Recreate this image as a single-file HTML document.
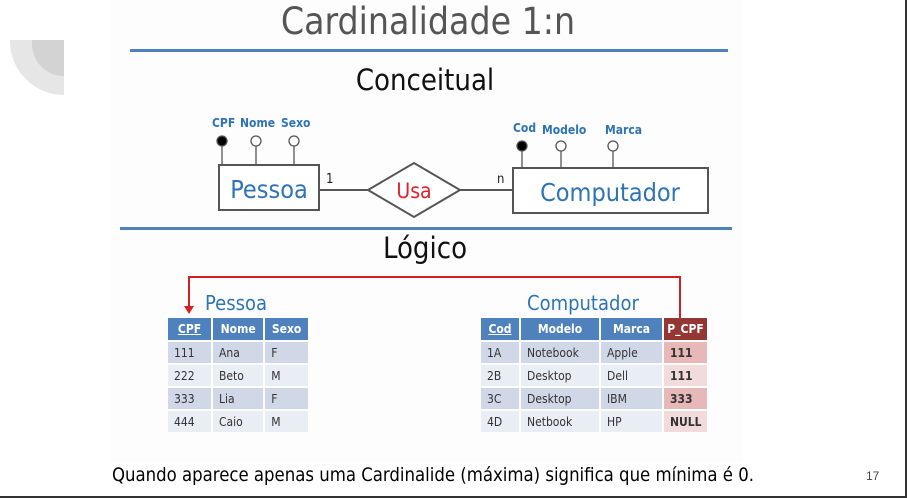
<!DOCTYPE html>
<html><head><meta charset="utf-8"><style>
body{margin:0;width:907px;height:498px;background:#fff;position:relative;overflow:hidden;font-family:"Liberation Sans",sans-serif}
.a{position:absolute}
table{position:absolute;border-collapse:separate;border-spacing:2px;font-size:12px;color:#333;font-family:"DejaVu Sans Condensed","Liberation Sans",sans-serif}
td{height:21px;padding:0 0 0 6px}
th{height:20px;background:#4f81bd;color:#fff;font-weight:bold;font-size:12px}
tr.o td{background:#d0d8e8}tr.e td{background:#e9edf4}
</style></head><body>
<div class="a" style="left:110px;top:0;width:632px;height:462px;background:#fdfdfd"></div>
<div class="a" style="left:10px;top:40px;width:54px;height:55px;background:#e6e6e6;border-bottom-left-radius:54px"></div>
<div class="a" style="left:32px;top:40px;width:32px;height:36px;background:#d3d3d3;border-bottom-left-radius:32px"></div>
<div class="a" style="width:428px;text-align:center;left:214px;top:0;font-size:37px;color:#555;line-height:44px;font-family:'DejaVu Sans Condensed','Liberation Sans',sans-serif">Cardinalidade 1:n</div>
<div class="a" style="left:130px;top:49px;width:598px;height:3px;background:#4f81bd"></div>
<div class="a" style="left:325px;top:62px;width:200px;text-align:center;font-size:29px;line-height:36px;color:#111;font-family:'DejaVu Sans Condensed',sans-serif">Conceitual</div>
<div class="a" style="left:120px;top:227px;width:612px;height:3px;background:#4f81bd"></div>
<div class="a" style="left:325px;top:230px;width:200px;text-align:center;font-size:29px;line-height:36px;color:#111;font-family:'DejaVu Sans Condensed',sans-serif">Lógico</div>
<svg class="a" style="left:0;top:0" width="907" height="498">
<g stroke="#555" stroke-width="1.3" fill="#fff">
<line x1="222" y1="145" x2="222" y2="166"/><line x1="256" y1="146" x2="256" y2="166"/><line x1="294" y1="146" x2="294" y2="166"/>
<line x1="522" y1="150" x2="522" y2="170"/><line x1="561" y1="150" x2="561" y2="170"/><line x1="613" y1="150" x2="613" y2="170"/>
<circle cx="222" cy="141" r="5" fill="#000"/><circle cx="256" cy="141" r="5"/><circle cx="294" cy="141" r="5"/>
<circle cx="522" cy="146" r="5" fill="#000"/><circle cx="561" cy="146" r="5"/><circle cx="613" cy="146" r="5"/>
<line x1="319" y1="190" x2="368" y2="190" stroke-width="2"/><line x1="460" y1="190" x2="513" y2="190" stroke-width="2"/>
<rect x="219" y="165" width="100" height="45" stroke-width="2"/>
<rect x="513" y="168" width="195" height="45" stroke-width="2"/>
<polygon points="368,190 414,163 460,190 414,217" stroke-width="2"/>
</g>
<g font-family="DejaVu Sans Condensed,Liberation Sans,sans-serif" fill="#2e74b5" font-size="12" font-weight="bold">
<text x="212" y="127">CPF</text><text x="240" y="127">Nome</text><text x="281" y="127">Sexo</text>
<text x="513" y="132">Cod</text><text x="542" y="134">Modelo</text><text x="605" y="134">Marca</text>
</g>
<g font-family="DejaVu Sans Condensed,Liberation Sans,sans-serif" fill="#2e74b5">
<text x="269" y="198" font-size="25" text-anchor="middle">Pessoa</text>
<text x="610" y="201" font-size="25" text-anchor="middle">Computador</text>
<text x="414" y="198" font-size="21" fill="#e0202a" text-anchor="middle">Usa</text>
<text x="326" y="183" font-size="13" fill="#222">1</text><text x="497" y="183" font-size="13" fill="#222">n</text>
<text x="205" y="310" font-size="20">Pessoa</text><text x="527" y="310" font-size="20">Computador</text>
</g>
<polyline points="680,318 680,277 189,277 189,308" fill="none" stroke="#d42020" stroke-width="2"/>
<polygon points="184,306 194,306 189,314" fill="#d42020"/>
</svg>
<table style="left:166px;top:316px;width:144px">
<tr><th style="width:41px;text-decoration:underline">CPF</th><th>Nome</th><th>Sexo</th></tr>
<tr class="o"><td>111</td><td>Ana</td><td>F</td></tr>
<tr class="e"><td>222</td><td>Beto</td><td>M</td></tr>
<tr class="o"><td>333</td><td>Lia</td><td>F</td></tr>
<tr class="e"><td>444</td><td>Caio</td><td>M</td></tr>
</table>
<table style="left:479px;top:316px;width:230px">
<tr><th style="width:36px;text-decoration:underline">Cod</th><th style="width:76px">Modelo</th><th style="width:59px">Marca</th><th style="background:#943634">P_CPF</th></tr>
<tr class="o"><td>1A</td><td>Notebook</td><td>Apple</td><td style="background:#e6b9b8;font-weight:bold">111</td></tr>
<tr class="e"><td>2B</td><td>Desktop</td><td>Dell</td><td style="background:#f2dcdb;font-weight:bold">111</td></tr>
<tr class="o"><td>3C</td><td>Desktop</td><td>IBM</td><td style="background:#e6b9b8;font-weight:bold">333</td></tr>
<tr class="e"><td>4D</td><td>Netbook</td><td>HP</td><td style="background:#f2dcdb;font-weight:bold">NULL</td></tr>
</table>
<div class="a" style="left:112px;top:465px;font-size:18.4px;color:#000;font-family:'DejaVu Sans Condensed','Liberation Sans',sans-serif">Quando aparece apenas uma Cardinalide (máxima) significa que mínima é 0.</div>
<div class="a" style="left:866px;top:469px;font-size:12px;color:#444">17</div>
<div class="a" style="left:0;top:496px;width:907px;height:2px;background:#333"></div>
<div class="a" style="left:905px;top:0;width:2px;height:498px;background:#333"></div>
</body></html>
